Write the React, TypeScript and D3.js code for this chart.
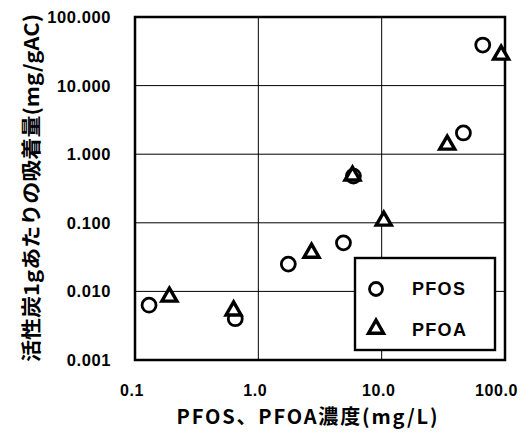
import React from "react";
import * as d3 from "d3";

// Adsorbed amount per gram of activated carbon vs. equilibrium concentration
const pfosConc = [0.13, 0.65, 1.75, 4.9, 5.9, 46, 66];
const pfosAds = [0.0063, 0.004, 0.025, 0.051, 0.48, 2.04, 39];
const pfoaConc = [0.19, 0.63, 2.7, 5.8, 10.4, 34, 93];
const pfoaAds = [0.0086, 0.0054, 0.0375, 0.5, 0.11, 1.41, 29];

const xTicks = [0.1, 1, 10, 100];
const xTickLabels = ["0.1", "1.0", "10.0", "100.0"];
const yTicks = [0.001, 0.01, 0.1, 1, 10, 100];
const yTickLabels = ["0.001", "0.010", "0.100", "1.000", "10.000", "100.000"];
const seriesNames = ["PFOS", "PFOA"];

const W = 526;
const H = 432;
const margin = { left: 135, right: 21, top: 17, bottom: 72 };

const latin = "'Liberation Sans', Arial, sans-serif";
const cjk = "'Noto Sans CJK JP', 'Liberation Sans', sans-serif";

function triPath(cx: number, cy: number) {
  const hw = 7.5;
  const h = 13;
  return `M${cx},${cy - h * 0.6}L${cx + hw},${cy + h * 0.4}L${cx - hw},${cy + h * 0.4}Z`;
}

export default function App() {
  const x = d3
    .scaleLog()
    .domain([0.1, 100])
    .range([margin.left, W - margin.right]);
  const y = d3
    .scaleLog()
    .domain([0.001, 100])
    .range([H - margin.bottom, margin.top]);

  const [x0, x1] = x.range();
  const [y0, y1] = y.range();

  const legend = { x: 355, y: 258, w: 140, h: 92 };

  return (
    <svg
      width={W}
      height={H}
      style={{ position: "absolute", left: 0, top: 0, background: "#fff" }}
    >
      <rect x={0} y={0} width={W} height={H} fill="#fff" />
      {/* grid */}
      {xTicks.slice(1, -1).map((t) => (
        <line key={"gx" + t} x1={x(t)} x2={x(t)} y1={y1} y2={y0} stroke="#000" strokeWidth={1} />
      ))}
      {yTicks.slice(1, -1).map((t) => (
        <line key={"gy" + t} x1={x0} x2={x1} y1={y(t)} y2={y(t)} stroke="#000" strokeWidth={1} />
      ))}
      {/* frame */}
      <rect x={x0} y={y1} width={x1 - x0} height={y0 - y1} fill="none" stroke="#000" strokeWidth={2.5} />
      {/* y tick labels */}
      {yTicks.map((t, i) => (
        <text
          key={"yl" + t}
          x={x0 - 24}
          y={y(t) + 6}
          textAnchor="end"
          fontFamily={latin}
          fontWeight="bold"
          fontSize={16.5}
          letterSpacing={0.6}
        >
          {yTickLabels[i]}
        </text>
      ))}
      {/* x tick labels */}
      {xTicks.map((t, i) => (
        <text
          key={"xl" + t}
          x={i === xTicks.length - 1 ? x(t) + 13 : x(t) - 3}
          y={y0 + 36}
          textAnchor={i === xTicks.length - 1 ? "end" : "middle"}
          fontFamily={latin}
          fontWeight="bold"
          fontSize={16}
          letterSpacing={0.6}
        >
          {xTickLabels[i]}
        </text>
      ))}
      {/* axis titles */}
      <text
        x={307}
        y={424}
        textAnchor="middle"
        fontFamily={cjk}
        fontWeight={700}
        fontSize={20}
        textLength={261}
        lengthAdjust="spacing"
      >
        PFOS、PFOA濃度(mg/L)
      </text>
      <text
        transform={`translate(39,${188}) rotate(-90)`}
        textAnchor="middle"
        fontFamily={cjk}
        fontWeight={700}
        fontSize={20}
        textLength={348}
        lengthAdjust="spacingAndGlyphs"
      >
        活性炭1gあたりの吸着量(mg/gAC)
      </text>
      {/* data */}
      {pfosConc.map((c, i) => (
        <circle key={"s" + i} cx={x(c)} cy={y(pfosAds[i])} r={7} fill="#fff" stroke="#000" strokeWidth={2.8} />
      ))}
      {pfoaConc.map((c, i) => (
        <path key={"a" + i} d={triPath(x(c), y(pfoaAds[i]))} fill="#fff" stroke="#000" strokeWidth={3.4} strokeLinejoin="miter" />
      ))}
      {/* legend */}
      <rect x={legend.x} y={legend.y} width={legend.w} height={legend.h} fill="#fff" stroke="#000" strokeWidth={2.4} />
      <circle cx={legend.x + 21} cy={legend.y + 31} r={6.5} fill="#fff" stroke="#000" strokeWidth={2.8} />
      <path d={triPath(legend.x + 21, legend.y + 70)} fill="#fff" stroke="#000" strokeWidth={3.4} />
      {seriesNames.map((n, i) => (
        <text
          key={n}
          x={legend.x + 57}
          y={legend.y + 37 + i * 41}
          fontFamily={latin}
          fontWeight="bold"
          fontSize={18}
          letterSpacing={1.3}
        >
          {n}
        </text>
      ))}
    </svg>
  );
}
